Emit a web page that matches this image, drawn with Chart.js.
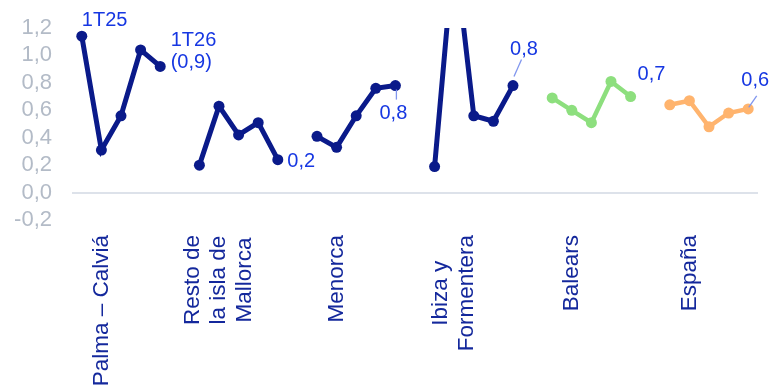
<!DOCTYPE html>
<html>
<head>
<meta charset="utf-8">
<title>Evolución trimestral por zonas</title>
<script src="https://cdn.jsdelivr.net/npm/chart.js@4"></script>
<style>
  html, body { margin: 0; padding: 0; background: #fff; }
  #wrap { width: 769px; height: 386px; }
</style>
</head>
<body>
<div id="wrap"><canvas id="zonasChart" width="769" height="386"></canvas></div>
<script>
// Trimestres de cada serie
const quarters = ['1T25', '2T25', '3T25', '4T25', '1T26'];

// Zonas, partidas en líneas como van en el eje
const regions = [
  ['Palma – Calviá'],
  ['Resto de', 'la isla de', 'Mallorca'],
  ['Menorca'],
  ['Ibiza y', 'Formentera'],
  ['Balears'],
  ['España'],
];

const palmaCalvia = [1.14, 0.31, 0.56, 1.04, 0.92];
const restoMallorca = [0.2, 0.63, 0.42, 0.51, 0.24];
const menorca = [0.41, 0.33, 0.56, 0.76, 0.78];
const ibizaFormentera = [0.19, 1.8, 0.56, 0.52, 0.78];
const balears = [0.69, 0.6, 0.51, 0.81, 0.7];
const espana = [0.64, 0.67, 0.48, 0.58, 0.61];

const yTicks = [-0.2, 0, 0.2, 0.4, 0.6, 0.8, 1.0, 1.2];

const series = [palmaCalvia, restoMallorca, menorca, ibizaFormentera, balears, espana];
const lineColors = ['#0a1a8a', '#0a1a8a', '#0a1a8a', '#0a1a8a', '#8ddf7e', '#ffb46e'];

const fmt = (v) => v.toFixed(1).replace('.', ',');

// cada zona ocupa 5 huecos y se deja uno vacío entre zonas
const GROUP = quarters.length + 1;
const slotLabels = [];
series.forEach((s, g) => {
  if (g > 0) slotLabels.push('');
  quarters.forEach((q) => slotLabels.push(q));
});

const datasets = series.map((s, g) => {
  const data = new Array(slotLabels.length).fill(null);
  s.forEach((v, i) => { data[g * GROUP + i] = v; });
  return {
    data: data,
    borderColor: lineColors[g],
    backgroundColor: lineColors[g],
    borderWidth: g < 4 ? 5 : 4.5,
    pointRadius: 5.5,
    pointBorderWidth: 0,
    pointBackgroundColor: lineColors[g],
    spanGaps: false,
    tension: 0,
  };
});

// etiquetas de valor junto a los puntos (desplazamientos en px respecto al punto)
const valueNotes = [
  { group: 0, idx: 0, lines: [quarters[0]], dx: 0, dy: -16, align: 'left' },
  { group: 0, idx: 4, lines: [quarters[4], '(' + fmt(palmaCalvia[4]) + ')'], dx: 10.5, dy: -26, align: 'left' },
  { group: 1, idx: 4, lines: [fmt(restoMallorca[4])], dx: 9.5, dy: 2, align: 'left' },
  { group: 2, idx: 4, lines: [fmt(menorca[4])], dx: -2, dy: 28, align: 'center', guide: [1, 4, 1, 14] },
  { group: 3, idx: 4, lines: [fmt(ibizaFormentera[4])], dx: 11, dy: -36, align: 'center', guide: [1, -9, 8.5, -26] },
  { group: 4, idx: 4, lines: [fmt(balears[4])], dx: 7, dy: -22, align: 'left' },
  { group: 5, idx: 4, lines: [fmt(espana[4])], dx: 7, dy: -28, align: 'center', guide: [0.5, -1.5, 8.5, -13] },
];

const valueLabels = {
  id: 'valueLabels',
  afterDatasetsDraw(chart) {
    const ctx = chart.ctx;
    ctx.save();
    valueNotes.forEach((n) => {
      const pt = chart.getDatasetMeta(n.group).data[n.group * GROUP + n.idx];
      if (n.guide) {
        ctx.strokeStyle = '#8096ee';
        ctx.lineWidth = 1.3;
        ctx.beginPath();
        ctx.moveTo(pt.x + n.guide[0], pt.y + n.guide[1]);
        ctx.lineTo(pt.x + n.guide[2], pt.y + n.guide[3]);
        ctx.stroke();
      }
      ctx.fillStyle = '#1637e2';
      ctx.font = '20px "Liberation Sans", Arial, sans-serif';
      ctx.textAlign = n.align;
      ctx.textBaseline = 'middle';
      n.lines.forEach((t, k) => {
        ctx.fillText(t, pt.x + n.dx, pt.y + n.dy + k * 22);
      });
    });
    ctx.restore();
  },
};

// nombres de zona en vertical, centrados línea a línea
const regionLabels = {
  id: 'regionLabels',
  afterDraw(chart) {
    const ctx = chart.ctx;
    const xScale = chart.scales.x;
    const lineH = 26;
    ctx.save();
    ctx.fillStyle = '#14289c';
    ctx.font = '22.5px "Liberation Sans", Arial, sans-serif';
    ctx.textAlign = 'center';
    ctx.textBaseline = 'middle';
    regions.forEach((lines, g) => {
      const x = xScale.getPixelForValue(g * GROUP + 1);
      const maxW = Math.max(...lines.map((t) => ctx.measureText(t).width));
      const top = 235;
      ctx.save();
      ctx.translate(x, top + maxW / 2);
      ctx.rotate(-Math.PI / 2);
      lines.forEach((t, k) => {
        ctx.fillText(t, 0, (k - (lines.length - 1) / 2) * lineH);
      });
      ctx.restore();
    });
    ctx.restore();
  },
};

Chart.defaults.font.family = '"Liberation Sans", Arial, sans-serif';

new Chart(document.getElementById('zonasChart').getContext('2d'), {
  type: 'line',
  data: {
    labels: slotLabels,
    datasets: datasets,
  },
  options: {
    responsive: false,
    animation: false,
    devicePixelRatio: 1,
    layout: {
      autoPadding: false,
      padding: { top: 28, right: 11, left: 0, bottom: 0 },
    },
    scales: {
      x: {
        type: 'category',
        offset: true,
        grid: { display: false },
        border: { display: false },
        ticks: { display: false },
        afterFit: (s) => { s.height = 166; },
      },
      y: {
        min: -0.2,
        max: 1.2,
        afterBuildTicks: (s) => { s.ticks = yTicks.map((v) => ({ value: v })); },
        afterFit: (s) => {
          s.width = 72;
          // el hueco de las etiquetas no debe encoger el área del gráfico
          s.paddingTop = 0;
          s.paddingBottom = 0;
        },
        border: { display: false },
        grid: {
          drawTicks: false,
          lineWidth: 2,
          color: (c) => (c.tick && Math.abs(c.tick.value) < 1e-9 ? '#dde2ea' : 'transparent'),
        },
        ticks: {
          autoSkip: false,
          padding: 20,
          color: '#b3bbc7',
          font: { size: 22 },
          callback: (v) => fmt(v),
        },
      },
    },
    plugins: {
      legend: { display: false },
      tooltip: { enabled: false },
    },
  },
  plugins: [valueLabels, regionLabels],
});
</script>
</body>
</html>
